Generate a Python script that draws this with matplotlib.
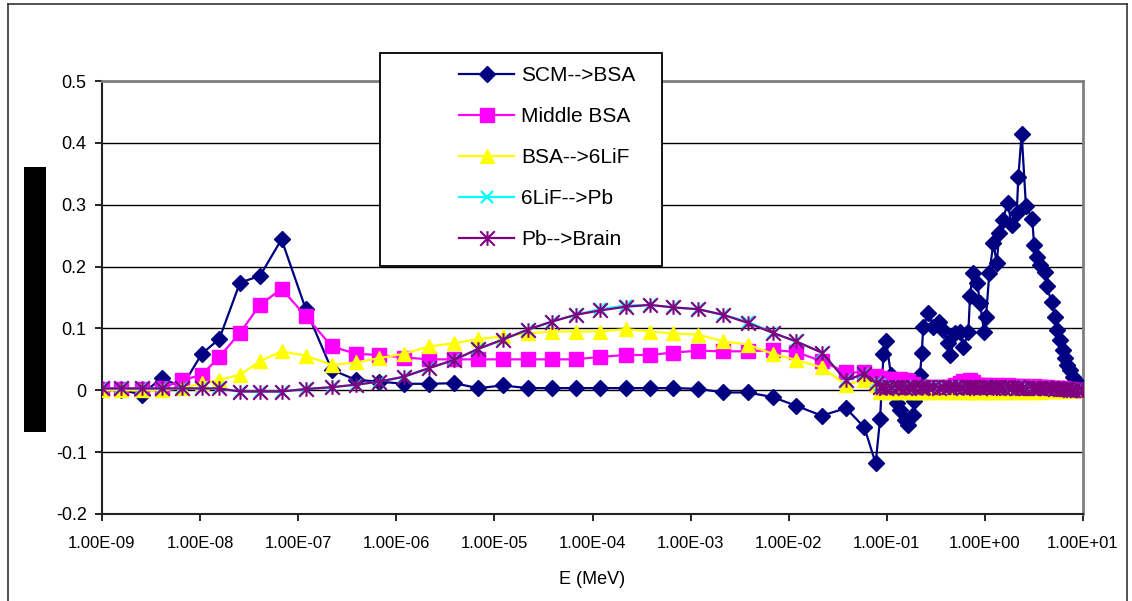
import matplotlib
matplotlib.use('Agg')
import matplotlib.pyplot as plt
from matplotlib.path import Path
from matplotlib.patches import Rectangle
from matplotlib.lines import Line2D
from matplotlib.ticker import FixedLocator, NullLocator

plt.rcParams['font.family'] = ['Liberation Sans', 'DejaVu Sans']

# energy grid (MeV), shared by all series
energy = [1.0e-9, 1.55e-9, 2.54e-9, 4.06e-9, 6.5e-9, 1.04e-8, 1.57e-8, 2.55e-8, 4.08e-8, 6.76e-8,
          1.19e-7, 2.2e-7, 3.86e-7, 6.7e-7, 1.2e-6, 2.17e-6, 3.87e-6, 6.85e-6, 1.22e-5, 2.18e-5,
          3.84e-5, 6.74e-5, 1.19e-4, 2.18e-4, 3.85e-4, 6.67e-4, 1.2e-3, 2.15e-3, 3.82e-3, 6.87e-3,
          1.19e-2, 2.17e-2, 3.84e-2, 5.9e-2, 7.7e-2,
          0.0853, 0.0925, 0.0982, 0.1104, 0.126, 0.1365, 0.153, 0.1656, 0.1836, 0.189,
          0.218, 0.227, 0.2355, 0.265, 0.298, 0.343, 0.377, 0.424, 0.441, 0.495,
          0.557, 0.603, 0.678, 0.705, 0.75, 0.836, 0.891, 0.98, 1.026, 1.11,
          1.22, 1.32, 1.40, 1.52, 1.71, 1.87, 2.11, 2.19, 2.37, 2.62,
          3.04, 3.17, 3.37, 3.65, 4.10, 4.27, 4.80, 5.19, 5.40, 5.83,
          6.21, 6.56, 6.92, 7.36, 7.96, 8.75, 9.70, 10.0]

scm_bsa = [0.0, 0.001, -0.007, 0.02, 0.005, 0.059, 0.083, 0.174, 0.185, 0.244,
           0.132, 0.033, 0.017, 0.014, 0.0105, 0.0105, 0.0115, 0.0035, 0.0078, 0.0035,
           0.0035, 0.0035, 0.0035, 0.0035, 0.0035, 0.0035, 0.0024, -0.0035, -0.0035, -0.011,
           -0.025, -0.041, -0.029, -0.060, -0.118,
           -0.047, 0.058, 0.080, 0.025, -0.021, -0.032, -0.048, -0.056, -0.040, -0.018,
           0.025, 0.060, 0.103, 0.125, 0.103, 0.111, 0.098, 0.076, 0.057, 0.092,
           0.094, 0.070, 0.094, 0.152, 0.189, 0.173, 0.141, 0.095, 0.119, 0.189,
           0.238, 0.205, 0.254, 0.275, 0.303, 0.267, 0.286, 0.344, 0.415, 0.298,
           0.277, 0.235, 0.216, 0.203, 0.192, 0.168, 0.142, 0.118, 0.098, 0.082,
           0.065, 0.052, 0.041, 0.033, 0.022, 0.014, 0.006, 0.0]

middle_bsa = [0.002, 0.002, 0.002, 0.0035, 0.016, 0.025, 0.054, 0.093, 0.138, 0.164,
              0.12, 0.071, 0.059, 0.057, 0.053, 0.05, 0.05, 0.05, 0.05, 0.05,
              0.05, 0.05, 0.054, 0.057, 0.057, 0.061, 0.064, 0.063, 0.063, 0.065,
              0.062, 0.047, 0.029, 0.029, 0.023,
              0.020, 0.018, 0.019, 0.018, 0.017, 0.018, 0.016, 0.015, 0.010, 0.006,
              0.004, 0.005, 0.004, 0.006, 0.005, 0.004, 0.006, 0.005, 0.006, 0.008,
              0.012, 0.015, 0.014, 0.016, 0.013, 0.009, 0.008, 0.008, 0.007, 0.008,
              0.007, 0.008, 0.007, 0.007, 0.008, 0.007, 0.006, 0.007, 0.007, 0.006,
              0.006, 0.007, 0.005, 0.006, 0.005, 0.005, 0.004, 0.004, 0.003, 0.003,
              0.003, 0.002, 0.002, 0.002, 0.001, 0.001, 0.001, 0.0]

bsa_6lif = [0.0, 0.0, 0.0, 0.0, 0.0035, 0.011, 0.017, 0.025, 0.047, 0.063,
            0.056, 0.041, 0.045, 0.052, 0.059, 0.071, 0.076, 0.083, 0.087, 0.092,
            0.095, 0.095, 0.095, 0.099, 0.095, 0.092, 0.09, 0.079, 0.074, 0.059,
            0.049, 0.037, 0.009, 0.017, 0.009,
            -0.002, -0.001, -0.002, -0.003, -0.002, -0.002, -0.001, -0.002, -0.003, -0.002,
            -0.002, -0.001, -0.002, -0.002, -0.003, -0.002, -0.001, -0.002, -0.002, -0.002,
            -0.001, -0.002, -0.002, -0.003, -0.002, -0.002, -0.001, -0.002, -0.002, -0.002,
            -0.002, -0.001, -0.002, -0.002, -0.002, -0.001, -0.002, -0.002, -0.001, -0.002,
            -0.002, -0.001, -0.001, -0.002, -0.001, -0.001, -0.001, -0.001, -0.001, -0.001,
            -0.001, 0.0, -0.001, 0.0, 0.0, 0.0, 0.0, 0.0]

lif_pb = [0.003, 0.003, 0.003, 0.003, 0.003, 0.003, 0.003, -0.002, -0.002, -0.002,
          0.002, 0.005, 0.009, 0.014, 0.022, 0.036, 0.049, 0.067, 0.082, 0.098,
          0.111, 0.122, 0.131, 0.137, 0.138, 0.134, 0.131, 0.122, 0.111, 0.093,
          0.079, 0.061, 0.016, 0.026, 0.012,
          0.008, 0.006, 0.005, 0.005, 0.005, 0.006, 0.005, 0.004, 0.005, 0.005,
          0.006, 0.005, 0.004, 0.005, 0.005, 0.005, 0.004, 0.006, 0.005, 0.005,
          0.004, 0.005, 0.005, 0.006, 0.005, 0.004, 0.005, 0.005, 0.004, 0.005,
          0.005, 0.004, 0.005, 0.005, 0.004, 0.005, 0.004, 0.004, 0.004, 0.005,
          0.003, 0.004, 0.003, 0.003, 0.003, 0.002, 0.003, 0.003, 0.002, 0.002,
          0.002, 0.002, 0.001, 0.001, 0.001, 0.001, 0.001, 0.0]

pb_brain = [0.003, 0.003, 0.003, 0.003, 0.003, 0.003, 0.003, -0.002, -0.002, -0.002,
            0.002, 0.005, 0.009, 0.014, 0.022, 0.036, 0.049, 0.067, 0.082, 0.098,
            0.111, 0.122, 0.129, 0.135, 0.138, 0.134, 0.131, 0.122, 0.109, 0.093,
            0.079, 0.061, 0.016, 0.027, 0.012,
            0.006, 0.005, 0.004, 0.005, 0.006, 0.005, 0.004, 0.005, 0.005, 0.006,
            0.005, 0.004, 0.005, 0.006, 0.005, 0.004, 0.005, 0.005, 0.006, 0.005,
            0.005, 0.004, 0.005, 0.005, 0.006, 0.005, 0.004, 0.005, 0.005, 0.005,
            0.004, 0.005, 0.005, 0.004, 0.005, 0.004, 0.004, 0.005, 0.004, 0.004,
            0.004, 0.003, 0.004, 0.003, 0.003, 0.003, 0.003, 0.002, 0.003, 0.002,
            0.002, 0.002, 0.002, 0.001, 0.001, 0.001, 0.001, 0.0]

labels = ['SCM-->BSA', 'Middle BSA', 'BSA-->6LiF', '6LiF-->Pb', 'Pb-->Brain']
x_ticks = [1e-9, 1e-8, 1e-7, 1e-6, 1e-5, 1e-4, 1e-3, 1e-2, 1e-1, 1e0, 1e1]
x_tick_labels = ['1.00E-09', '1.00E-08', '1.00E-07', '1.00E-06', '1.00E-05', '1.00E-04',
                 '1.00E-03', '1.00E-02', '1.00E-01', '1.00E+00', '1.00E+01']
y_ticks = [-0.2, -0.1, 0, 0.1, 0.2, 0.3, 0.4, 0.5]
y_tick_labels = ['-0.2', '-0.1', '0', '0.1', '0.2', '0.3', '0.4', '0.5']

# asterisk marker: vertical bar plus an X
star = Path([(0, -1), (0, 1), (-1, -1), (1, 1), (-1, 1), (1, -1)],
            [Path.MOVETO, Path.LINETO] * 3)

styles = [
    dict(color='#000080', marker='D', ms=8.5, mfc='#000080', mec='#000080'),
    dict(color='#FF00FF', marker='s', ms=9.5, mfc='#FF00FF', mec='#FF00FF'),
    dict(color='#FFFF00', marker='^', ms=10.5, mfc='#FFFF00', mec='#FFFF00'),
    dict(color='#00FFFF', marker='x', ms=9, mew=1.6),
    dict(color='#800080', marker=star, ms=10.5, mew=1.5, mfc='none', mec='#800080'),
]
series = [scm_bsa, middle_bsa, bsa_6lif, lif_pb, pb_brain]

W, H = 1132, 601
fig = plt.figure(figsize=(W / 100, H / 100), dpi=100)
ax = fig.add_axes([102 / W, 1 - 514 / H, (1083 - 102) / W, (514 - 81) / H])

lines = []
for i, (vals, st, lab) in enumerate(zip(series, styles, labels)):
    ln, = ax.plot(energy, vals, lw=1.6, label=lab, zorder=3 + i, **st)
    lines.append(ln)

ax.set_xscale('log')
ax.set_xlim(1e-9, 1e1)
ax.set_ylim(-0.2, 0.5)
ax.xaxis.set_major_locator(FixedLocator(x_ticks))
ax.xaxis.set_minor_locator(NullLocator())
ax.set_xticklabels(x_tick_labels, fontsize=12)
ax.set_yticks(y_ticks)
ax.set_yticklabels(y_tick_labels, fontsize=13)
ax.grid(axis='y', color='black', lw=1)
ax.set_axisbelow(True)
ax.tick_params(axis='x', direction='out', length=5, width=1.2, pad=11)
ax.tick_params(axis='y', direction='out', length=5, width=1.2, pad=6)
for s in ['top', 'right']:
    ax.spines[s].set_color('#808080')
    ax.spines[s].set_linewidth(2)
for s in ['left', 'bottom']:
    ax.spines[s].set_color('#222222')
    ax.spines[s].set_linewidth(1.5)

fig.text(592 / W, 1 - 580 / H, 'E (MeV)', ha='center', va='center', fontsize=13)

# legend box
fig.add_artist(Rectangle((380 / W, 1 - 266 / H), 282 / W, 213 / H,
                         transform=fig.transFigure, facecolor='white',
                         edgecolor='black', lw=1.3, zorder=4))
leg = fig.legend(handles=lines, loc='upper left', bbox_to_anchor=(459 / W, 1 - 66 / H),
                 frameon=False, fontsize=15, borderpad=0, borderaxespad=0,
                 handlelength=2.64, handletextpad=0.34, labelspacing=1.06)
leg.set_zorder(6)

# black bar on the left
fig.add_artist(Rectangle((24 / W, 1 - 432 / H), 22 / W, 265 / H,
                         transform=fig.transFigure, facecolor='black', edgecolor='none'))

# outer chart border (bottom edge is cut off)
bx0, bx1, by1 = 8 / W, 1127 / W, 1 - 4 / H
for xs, ys in [([bx0, bx0], [0, by1]), ([bx0, bx1], [by1, by1]), ([bx1, bx1], [by1, 0])]:
    fig.add_artist(Line2D(xs, ys, transform=fig.transFigure, color='#333333', lw=1.2))

fig.savefig('out.png', dpi=100)
